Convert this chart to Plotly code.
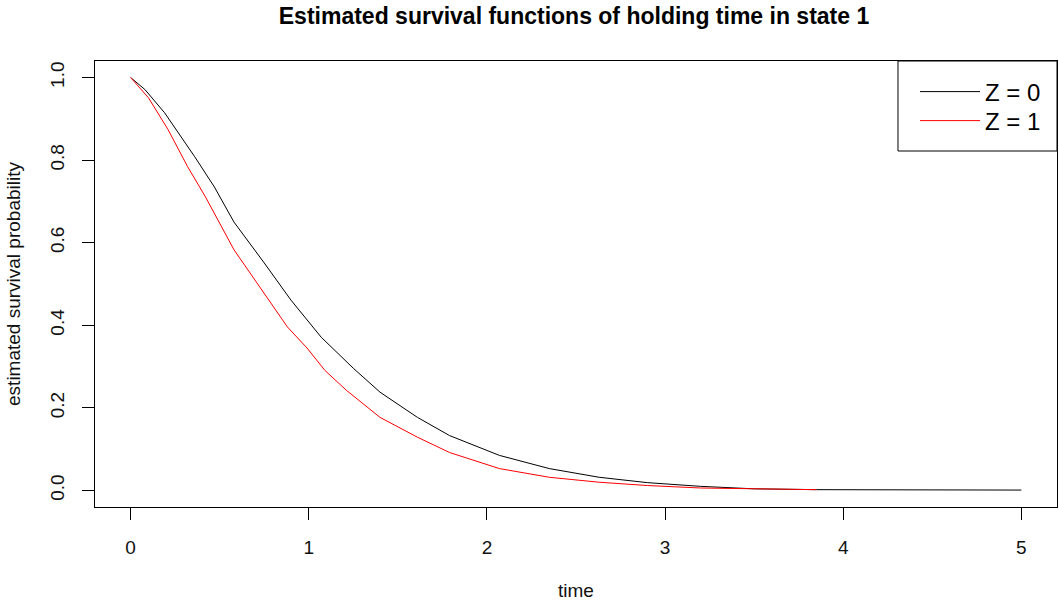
import plotly.graph_objects as go

# Estimated survival, Z = 0 (black)
time_z0 = [0.0, 0.08, 0.19, 0.36, 0.47, 0.58, 0.75, 0.90, 1.07, 1.25, 1.40, 1.61, 1.79,
           2.07, 2.35, 2.63, 2.90, 3.20, 3.50, 3.85, 5.0]
surv_z0 = [1.0, 0.971, 0.915, 0.808, 0.735, 0.650, 0.551, 0.461, 0.371, 0.296, 0.238, 0.177, 0.133,
           0.085, 0.053, 0.032, 0.019, 0.010, 0.004, 0.002, 0.001]

# Estimated survival, Z = 1 (red)
time_z1 = [0.0, 0.10, 0.21, 0.32, 0.42, 0.58, 0.71, 0.88, 0.99, 1.09, 1.21, 1.40, 1.61, 1.79,
           2.07, 2.35, 2.63, 2.90, 3.20, 3.50, 3.85]
surv_z1 = [1.0, 0.951, 0.874, 0.784, 0.711, 0.583, 0.502, 0.396, 0.345, 0.291, 0.243, 0.177, 0.129, 0.092,
           0.053, 0.032, 0.020, 0.012, 0.006, 0.004, 0.002]

x_ticks = [0, 1, 2, 3, 4, 5]
y_ticks = [0.0, 0.2, 0.4, 0.6, 0.8, 1.0]
y_tick_labels = ["0.0", "0.2", "0.4", "0.6", "0.8", "1.0"]

FONT = "Liberation Sans"
TXT = "#111111"

fig = go.Figure()
fig.add_trace(go.Scatter(x=time_z0, y=surv_z0, mode="lines", name="Z = 0",
                         line=dict(color="black", width=1), legend="legend"))
fig.add_trace(go.Scatter(x=time_z1, y=surv_z1, mode="lines", name="Z = 1",
                         line=dict(color="red", width=1), legend="legend2"))

# legend frame (R-style box)
fig.add_shape(type="rect", xref="paper", yref="paper",
              x0=0.8347, x1=1.0, y0=0.7982, y1=1.0,
              line=dict(color="black", width=1), fillcolor="white", layer="below")

leg_common = dict(x=(915 - 95) / 962, xanchor="left", yanchor="middle",
                  borderwidth=0, bgcolor="rgba(0,0,0,0)",
                  font=dict(size=24, family=FONT, color="black"),
                  itemwidth=60)

fig.update_layout(
    width=1059, height=601,
    margin=dict(l=95, r=2, t=61, b=94),
    paper_bgcolor="white", plot_bgcolor="white",
    font=dict(family=FONT, color=TXT),
    title=dict(text="<b>Estimated survival functions of holding time in state 1</b>",
               x=574 / 1059, xanchor="center", y=1 - 16 / 601, yanchor="middle",
               font=dict(size=23, family=FONT, color="black")),
    showlegend=True,
    legend=dict(y=1 - (92 - 61) / 446, **leg_common),
    legend2=dict(y=1 - (121 - 61) / 446, **leg_common),
)

fig.update_xaxes(range=[-0.2, 5.2], tickvals=x_ticks, ticks="outside", ticklen=12,
                 tickcolor="black", showline=True, linecolor="black", linewidth=1, mirror=True,
                 showgrid=False, zeroline=False, automargin=False,
                 tickfont=dict(size=19, family=FONT, color=TXT),
                 ticklabelstandoff=11,
                 title=dict(text="time", font=dict(size=19, family=FONT, color=TXT), standoff=33))
fig.update_yaxes(range=[-0.04, 1.04], tickvals=y_ticks, ticktext=y_tick_labels, ticks="outside",
                 ticklen=12, tickcolor="black", showline=True, linecolor="black", linewidth=1,
                 mirror=True, showgrid=False, zeroline=False, tickangle=-90, automargin=False,
                 tickfont=dict(size=19, family=FONT, color=TXT),
                 ticklabelstandoff=10,
                 title=dict(text="estimated survival probability",
                            font=dict(size=19, family=FONT, color=TXT), standoff=21))

fig.write_html("out.html")
